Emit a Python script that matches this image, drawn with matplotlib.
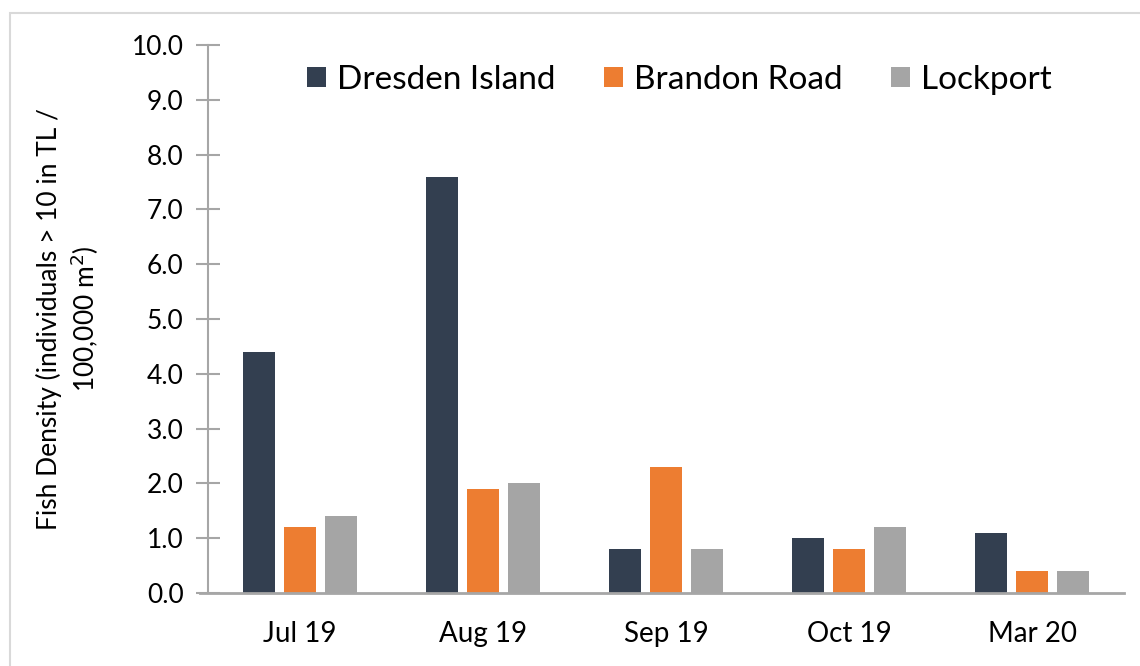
import matplotlib
matplotlib.use("Agg")
import matplotlib.pyplot as plt
import numpy as np
from matplotlib.patches import Rectangle

categories = ["Jul 19", "Aug 19", "Sep 19", "Oct 19", "Mar 20"]
series_names = ["Dresden Island", "Brandon Road", "Lockport"]
dresden = [4.4, 7.6, 0.8, 1.0, 1.1]
brandon = [1.2, 1.9, 2.3, 0.8, 0.4]
lockport = [1.4, 2.0, 0.8, 1.2, 0.4]
colors = ["#333F50", "#ED7D31", "#A5A5A5"]

plt.rcParams['font.family'] = ['Lato', 'DejaVu Sans']

fig = plt.figure(figsize=(11.4, 6.66), dpi=100)
ax = fig.add_axes([208/1140, 1-593/666, (1124-208)/1140, (593-45)/666])

# outer chart border
fig.patches.append(Rectangle((10/1140, -0.01), 1.0, 1 - 13/666 + 0.01,
                             transform=fig.transFigure, fill=False,
                             edgecolor="#D9D9D9", linewidth=1.5))

x = np.arange(len(categories))
w = 0.175
step = 41/183.2
for i, (vals, name) in enumerate(zip([dresden, brandon, lockport], series_names)):
    ax.bar(x + (i-1)*step, vals, width=w, color=colors[i], label=name, zorder=2)

ax.set_xlim(-0.5, len(categories)-0.5)
ax.set_ylim(0, 10)
ax.set_yticks(np.arange(0, 10.01, 1.0))
ax.set_yticklabels([f"{v:.1f}" for v in np.arange(0, 10.01, 1.0)], fontsize=19)
ax.set_xticks(x)
ax.set_xticklabels(categories, fontsize=20)

for s in ["top", "right"]:
    ax.spines[s].set_visible(False)
ax.spines["left"].set_color("#A6A6A6")
ax.spines["bottom"].set_color("#A6A6A6")
ax.spines["left"].set_linewidth(1.5)
ax.spines["bottom"].set_linewidth(2)
ax.spines["bottom"].set_bounds(-0.5 - 8/183.2, len(categories)-0.5)
ax.tick_params(axis="y", direction="inout", length=17, width=1.5, color="#A6A6A6", pad=9, labelcolor="#000000")
ax.tick_params(axis="x", length=0, pad=20, labelcolor="#000000")

ax.set_ylabel("Fish Density (individuals > 10 in TL /\n100,000 m$^2$)", fontsize=19,
              linespacing=1.25)
ax.yaxis.set_label_coords(-0.117, 0.50)

leg = ax.legend(loc="center", bbox_to_anchor=(679/916 - 208/916, 1 - 35/548), ncol=3, frameon=False,
                fontsize=24, handlelength=0.57, handleheight=0.57, columnspacing=1.45, handletextpad=0.33)

fig.savefig("out.png", dpi=100)
